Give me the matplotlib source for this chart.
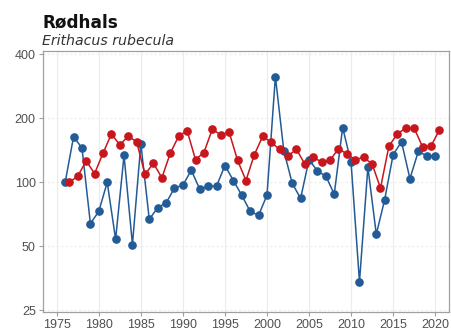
import matplotlib
matplotlib.use("Agg")
import matplotlib.pyplot as plt
from matplotlib.ticker import FixedLocator, NullFormatter, NullLocator

plt.rcParams['font.family'] = ['Liberation Sans', 'DejaVu Sans']

#---------------Données (indice, 1976 = 100)------------------
years = list(range(1976, 2021))
blue_index = [100, 164, 145, 64, 73, 100, 54, 134, 51, 152,
              67, 76, 80, 94, 97, 114, 93, 96, 96, 120,
              102, 87, 73, 70, 87, 314, 141, 99, 84, 128,
              113, 107, 88, 181, 124, 34, 118, 57, 83, 135,
              155, 104, 140, 133, 133]
red_index = [100, 107, 126, 110, 137, 169, 150, 165, 155, 109,
             123, 105, 137, 165, 175, 128, 138, 178, 167, 172,
             127, 102, 135, 165, 154, 143, 133, 143, 122, 132,
             124, 127, 144, 136, 128, 131, 122, 94, 148, 169,
             180, 180, 147, 148, 176]
#Série rouge décalée d'une demi-année
red_years = [y + 0.5 for y in years]
x_ticks = list(range(1975, 2021, 5))
y_ticks = [25, 50, 100, 200, 400]

title = "Rødhals"
subtitle = "Erithacus rubecula"

blue = "#235b96"
red = "#c8161d"

#---------------Figure------------------
fig = plt.figure(figsize=(4.52, 3.35), dpi=100)
ax = fig.add_axes([0.0945, 0.068, 0.898, 0.78])

ax.plot(years, blue_index, color=blue, lw=1.1, marker="o", ms=5.2, zorder=3)
ax.plot(red_years, red_index, color=red, lw=1.1, marker="o", ms=5.2, zorder=4)

ax.set_yscale("log")
ax.set_ylim(24.5, 415)
ax.set_xlim(1973.33, 2021.6)

ax.yaxis.set_major_locator(FixedLocator(y_ticks))
ax.yaxis.set_minor_locator(NullLocator())
ax.yaxis.set_minor_formatter(NullFormatter())
ax.set_yticks(y_ticks)
ax.set_yticklabels([str(v) for v in y_ticks])
ax.set_xticks(x_ticks)
ax.set_xticklabels([str(v) for v in x_ticks])

#Grille
ax.grid(axis="x", color="#ececec", lw=0.8, zorder=0)
ax.grid(axis="y", color="#ececec", lw=0.8, ls=(0, (2, 2)), zorder=0)

for sp in ax.spines.values():
    sp.set_color("#a0a0a0")
    sp.set_linewidth(0.9)
ax.tick_params(axis="both", colors="#a0a0a0", labelcolor="#505050",
               labelsize=9, length=3, width=0.8, pad=2)

#Titres
fig.text(0.093, 0.918, title, fontsize=12.2, fontweight="bold",
         family="DejaVu Sans", color="#111111", va="baseline", ha="left")
fig.text(0.093, 0.866, subtitle, fontsize=10.2, fontstyle="italic",
         family="DejaVu Sans", color="#333333", va="baseline", ha="left")

plt.savefig("out.png", dpi=100)
plt.close()
